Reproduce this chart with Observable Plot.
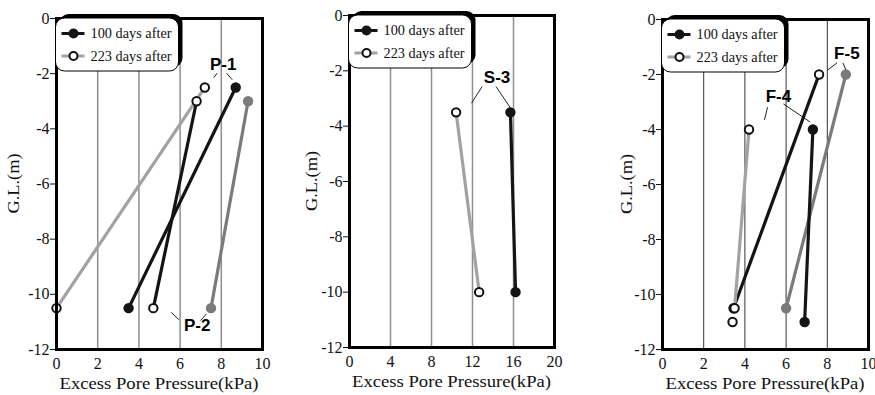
<!DOCTYPE html>
<html><head><meta charset="utf-8">
<script src="https://cdn.jsdelivr.net/npm/d3@7"></script>
<script src="https://cdn.jsdelivr.net/npm/@observablehq/plot@0.6"></script>
<style>
body{margin:0;background:#fff;}
#wrap{position:relative;width:875px;height:395px;overflow:hidden;background:#fff;}
#wrap svg{position:absolute;top:0;}
</style></head><body><div id="wrap"></div>
<script>
// ---------------- DATA ----------------
const legendLabels = ["100 days after", "223 days after"];
const yTicks = [0, -2, -4, -6, -8, -10, -12];
const xTicks1 = [0, 2, 4, 6, 8, 10];
const xTicks2 = [0, 4, 8, 12, 16, 20];
const xTicks3 = [0, 2, 4, 6, 8, 10];
const xLabel = "Excess Pore Pressure(kPa)";
const yLabel = "G.L.(m)";

// Panel 1 : P-1, P-2
const p1Series = ["P-1 100 days after", "P-1 223 days after", "P-2 100 days after", "P-2 223 days after"];
const p1X = [[8.7, 3.5], [7.2, 0], [9.3, 7.5], [6.8, 4.7]];
const p1Y = [[-2.5, -10.5], [-2.5, -10.5], [-3, -10.5], [-3, -10.5]];
const p1Labels = ["P-1", "P-2"];
const p1LabelX = [8.09, 6.83];
const p1LabelY = [-1.66, -11.13];
const p1Leaders = [[7.80, -1.98, 7.63, -2.15], [8.25, -1.98, 8.53, -2.22], [5.57, -10.65, 5.94, -10.92], [6.99, -10.95, 7.28, -10.71]];

// Panel 2 : S-3
const p2Series = ["S-3 100 days after", "S-3 223 days after"];
const p2X = [[15.7, 16.2], [10.4, 12.65]];
const p2Y = [[-3.5, -10], [-3.5, -10]];
const p2Labels = ["S-3"];
const p2LabelX = [14.4];
const p2LabelY = [-2.23];
const p2Leaders = [[12.94, -2.57, 11.9, -3.17], [14.3, -2.57, 15.7, -3.34]];

// Panel 3 : F-4, F-5
const p3Series = ["F-5 223 days after", "F-5 100 days after", "F-4 223 days after", "F-4 100 days after", "223 days after (-11 m)"];
const p3X = [[7.6, 3.45], [8.9, 6.0], [4.2, 3.5], [7.3, 6.9], [3.4]];
const p3Y = [[-2, -10.5], [-2, -10.5], [-4, -10.5], [-4, -11], [-11]];
const p3Labels = ["F-5", "F-4"];
const p3LabelX = [8.95, 5.63];
const p3LabelY = [-1.25, -2.8];
const p3Leaders = [[8.47, -1.58, 8.01, -1.84], [8.76, -1.58, 8.9, -1.83], [5.1, -3.19, 4.95, -3.65], [5.87, -3.07, 7.17, -3.73]];

// ---------------- STYLES ----------------
const STY = {
  black:     {line: "#141414", fill: "#141414", stroke: "#141414"},
  blackOpen: {line: "#141414", fill: "#ffffff", stroke: "#111111"},
  light:     {line: "#a2a2a2", fill: "#ffffff", stroke: "#111111"},
  gray:      {line: "#7b7b7b", fill: "#7b7b7b", stroke: "#7b7b7b"}
};

function rowsOf(names, X, Y) {
  const rows = [];
  names.forEach((n, i) => X[i].forEach((x, j) => rows.push({series: n, idx: i, x, y: Y[i][j]})));
  return rows;
}

function panel(cfg) {
  const rows = rowsOf(cfg.names, cfg.X, cfg.Y);
  const lineMarks = [], dotMarks = [];
  cfg.names.forEach((n, i) => {
    const s = STY[cfg.styles[i]];
    const sub = rows.filter(r => r.idx === i);
    if (sub.length > 1) lineMarks.push(Plot.line(sub, {x: "x", y: "y", stroke: s.line, strokeWidth: 3.2}));
    dotMarks.push(Plot.dot(sub, {x: "x", y: "y", r: 4.2, fill: s.fill, stroke: s.stroke, strokeWidth: 2}));
  });
  const labels = cfg.labels.map((t, i) => ({t, x: cfg.labelX[i], y: cfg.labelY[i]}));
  const svg = Plot.plot({
    width: cfg.width, height: 395,
    marginLeft: cfg.ml, marginRight: cfg.mr, marginTop: cfg.mt, marginBottom: cfg.mb,
    x: {domain: [cfg.xTicks[0], cfg.xTicks[cfg.xTicks.length - 1]]},
    y: {domain: [-12, 0]},
    style: {fontFamily: "'Liberation Serif', serif", fontSize: "16px", color: "#111", background: "transparent", overflow: "visible"},
    marks: [
      Plot.gridX(cfg.xTicks.slice(1, -1), {stroke: cfg.gridColor, strokeOpacity: 1, strokeWidth: cfg.gridWidth}),
      Plot.axisX({ticks: cfg.xTicks, tickSize: 0, tickPadding: 8, label: null, tickFormat: d => String(d)}),
      Plot.axisY({ticks: yTicks, tickSize: 6, tickPadding: 1, label: null, tickFormat: d => String(d)}),
      ...lineMarks,
      ...dotMarks,
      Plot.link(cfg.leaders, {x1: d => d[0], y1: d => d[1], x2: d => d[2], y2: d => d[3], stroke: "#222", strokeWidth: 1}),
      Plot.text(labels, {x: "x", y: "y", text: "t", fontFamily: "'Liberation Sans', Arial, sans-serif", fontWeight: "bold", fontSize: 17, fill: "#000"}),
      Plot.frame({stroke: "#000", strokeWidth: 3})
    ]
  });
  svg.style.left = cfg.left + "px";
  const g = d3.select(svg);
  const ml = cfg.ml, mt = cfg.mt, H = 395;
  // axis labels
  g.append("text").attr("x", ml + (cfg.width - ml - cfg.mr) / 2).attr("y", H - cfg.mb + 40)
    .attr("text-anchor", "middle").attr("font-size", 16).attr("fill", "#111")
    .attr("textLength", 199).attr("lengthAdjust", "spacingAndGlyphs").text(xLabel);
  g.append("text").attr("transform", `translate(${ml - cfg.yLabelOff},${mt + (H - mt - cfg.mb) / 2}) rotate(-90)`)
    .attr("text-anchor", "middle").attr("dy", "0.35em").attr("font-size", 17).attr("fill", "#111")
    .attr("textLength", 60).attr("lengthAdjust", "spacingAndGlyphs").text(yLabel);
  // legend
  const lg = g.append("g").attr("transform", `translate(${ml - 0.5},${mt})`);
  lg.append("rect").attr("x", 4).attr("y", -4).attr("width", 123).attr("height", 53).attr("rx", 9).attr("fill", "#000");
  lg.append("rect").attr("x", 0).attr("y", 0).attr("width", 123).attr("height", 53).attr("rx", 9)
    .attr("fill", "#fff").attr("stroke", "#000").attr("stroke-width", 1);
  const legSty = [STY.black, STY.light];
  legendLabels.forEach((t, i) => {
    const yy = 15.5 + i * 22.5;
    lg.append("line").attr("x1", 6).attr("x2", 29).attr("y1", yy).attr("y2", yy)
      .attr("stroke", legSty[i].line).attr("stroke-width", 3);
    lg.append("circle").attr("cx", 18).attr("cy", yy).attr("r", 4)
      .attr("fill", legSty[i].fill).attr("stroke", legSty[i].stroke).attr("stroke-width", 2);
    lg.append("text").attr("x", 35).attr("y", yy).attr("dy", "0.35em").attr("text-anchor", "start")
      .attr("font-size", 14).attr("fill", "#111")
      .attr("textLength", 81).attr("lengthAdjust", "spacingAndGlyphs").text(t);
  });
  document.getElementById("wrap").appendChild(svg);
}

panel({left: 0, width: 290, ml: 56, mr: 28, mt: 18, mb: 46, xTicks: xTicks1, gridColor: "#8e8e8e", gridWidth: 1.5, yLabelOff: 43,
  names: p1Series, X: p1X, Y: p1Y, styles: ["black", "light", "gray", "blackOpen"],
  labels: p1Labels, labelX: p1LabelX, labelY: p1LabelY, leaders: p1Leaders});
panel({left: 290, width: 290, ml: 59, mr: 26, mt: 15, mb: 48, xTicks: xTicks2, gridColor: "#8e8e8e", gridWidth: 1.5, yLabelOff: 38,
  names: p2Series, X: p2X, Y: p2Y, styles: ["black", "light"],
  labels: p2Labels, labelX: p2LabelX, labelY: p2LabelY, leaders: p2Leaders});
panel({left: 585, width: 290, ml: 77, mr: 7, mt: 19, mb: 46, xTicks: xTicks3, gridColor: "#333", gridWidth: 1, yLabelOff: 36,
  names: p3Series, X: p3X, Y: p3Y, styles: ["blackOpen", "gray", "light", "black", "light"],
  labels: p3Labels, labelX: p3LabelX, labelY: p3LabelY, leaders: p3Leaders});
</script></body></html>
